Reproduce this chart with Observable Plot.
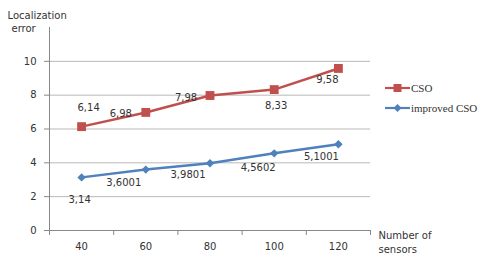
<!DOCTYPE html>
<html>
<head>
<meta charset="utf-8">
<script src="https://cdn.jsdelivr.net/npm/d3@7"></script>
<script src="https://cdn.jsdelivr.net/npm/@observablehq/plot@0.6"></script>
<style>
  html, body { margin: 0; padding: 0; background: #fff; }
  #chart { width: 480px; height: 260px; position: relative; }
</style>
</head>
<body>
<div id="chart"></div>
<script>
const sensors = [40, 60, 80, 100, 120];
const cso = [6.14, 6.98, 7.98, 8.33, 9.58];
const improved = [3.14, 3.6001, 3.9801, 4.5602, 5.1001];
const csoLabels = ["6,14", "6,98", "7,98", "8,33", "9,58"];
const improvedLabels = ["3,14", "3,6001", "3,9801", "4,5602", "5,1001"];
const yTicks = [0, 2, 4, 6, 8, 10];
const xBounds = [30, 50, 70, 90, 110, 130];
const seriesNames = ["CSO", "improved CSO"];
const yLabel = ["Localization", "error"];
const xLabel = ["Number of", "sensors"];

// label offsets (layout only)
const csoOffsets = [[7, -19], [-25, 1], [-24, 2], [2, 16], [-11, 11]];
const improvedOffsets = [[-2, 22], [-22, 13], [-22, 12], [-16, 14], [-17, 13]];

const RED = "#C0504D", BLUE = "#4F81BD";
const csoRows = sensors.map((s, i) => ({x: s, y: cso[i], label: csoLabels[i]}));
const impRows = sensors.map((s, i) => ({x: s, y: improved[i], label: improvedLabels[i]}));

const labelMarks = (rows, offs) => rows.map((r, i) =>
  Plot.text([r], {x: "x", y: "y", text: "label", dx: offs[i][0], dy: offs[i][1],
    fill: "#333", fontSize: 10}));

const tOpts = {textAnchor: "start", lineAnchor: "middle", fill: "#333", fontSize: 10};

const plot = Plot.plot({
  width: 480, height: 260,
  marginLeft: 49, marginRight: 110, marginTop: 27, marginBottom: 30,
  style: {fontFamily: "DejaVu Sans", fontSize: "10px", color: "#333", background: "#fff"},
  x: {type: "linear", domain: [30, 130]},
  y: {domain: [0, 12]},
  marks: [
    Plot.gridY(yTicks, {stroke: "#b8b8b8", strokeOpacity: 1, strokeWidth: 1}),
    Plot.axisY(yTicks, {tickSize: 5, tickPadding: 8, stroke: "#888", fill: "#333", label: null, fontSize: 10}),
    Plot.axisX(xBounds, {tickSize: 5, tickFormat: () => "", stroke: "#888", label: null}),
    Plot.axisX(sensors, {tickSize: 0, tickPadding: 12, fill: "#333", label: null, fontSize: 10}),
    Plot.ruleX([30], {stroke: "#888"}),
    Plot.ruleY([0], {stroke: "#888"}),
    Plot.line(csoRows, {x: "x", y: "y", stroke: RED, strokeWidth: 2.5}),
    Plot.dot(csoRows, {x: "x", y: "y", symbol: "square", r: 5, fill: RED, stroke: "none"}),
    Plot.line(impRows, {x: "x", y: "y", stroke: BLUE, strokeWidth: 2.5}),
    Plot.dot(impRows, {x: "x", y: "y", symbol: "diamond2", r: 3.8, fill: BLUE, stroke: "none"}),
    ...labelMarks(csoRows, csoOffsets),
    ...labelMarks(impRows, improvedOffsets),
    Plot.text([yLabel[0]], {...tOpts, frameAnchor: "top-left", dx: -42, dy: -12}),
    Plot.text([yLabel[1]], {...tOpts, frameAnchor: "top-left", dx: -38, dy: 1}),
    Plot.text([xLabel[0]], {...tOpts, frameAnchor: "bottom-right", dx: 8, dy: 5}),
    Plot.text([xLabel[1]], {...tOpts, frameAnchor: "bottom-right", dx: 8, dy: 19})
  ]
});
document.getElementById("chart").appendChild(plot);

// legend
const svg = d3.select(plot);
const leg = svg.append("g").attr("font-family", "Liberation Serif").attr("font-size", 11)
  .attr("text-anchor", "start");
const legendItems = [
  {name: seriesNames[0], color: RED, sym: d3.symbolSquare, size: 64, y: 88},
  {name: seriesNames[1], color: BLUE, sym: d3.symbolDiamond2, size: 40, y: 108}
];
legendItems.forEach(it => {
  leg.append("line").attr("x1", 385).attr("x2", 410).attr("y1", it.y).attr("y2", it.y)
    .attr("stroke", it.color).attr("stroke-width", 2.2);
  leg.append("path").attr("d", d3.symbol(it.sym, it.size)()).attr("transform", `translate(397.5,${it.y})`)
    .attr("fill", it.color);
  leg.append("text").attr("x", 411).attr("y", it.y).attr("dy", "0.35em").attr("fill", "#333")
    .attr("text-anchor", "start").text(it.name);
});
</script>
</body>
</html>
